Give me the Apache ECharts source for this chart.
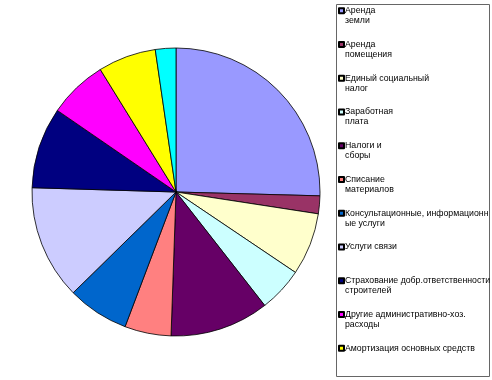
<!DOCTYPE html>
<html>
<head>
<meta charset="utf-8">
<script src="https://cdn.jsdelivr.net/npm/echarts@6/dist/echarts.min.js"></script>
<style>
html,body{margin:0;padding:0;background:#fff;}
#c{width:492px;height:380px;}
</style>
</head>
<body>
<div id="c"></div>
<script>
var categories = [
  'Аренда земли',
  'Аренда помещения',
  'Единый социальный налог',
  'Заработная плата',
  'Налоги и сборы',
  'Списание материалов',
  'Консультационные, информационные услуги',
  'Услуги связи',
  'Страхование добр.ответственности строителей',
  'Другие административно-хоз. расходы',
  'Амортизация основных средств',
  'Прочие'
];
var legendLabels = [
  'Аренда\nземли',
  'Аренда\nпомещения',
  'Единый социальный\nналог',
  'Заработная\nплата',
  'Налоги и\nсборы',
  'Списание\nматериалов',
  'Консультационные, информационн\nые услуги',
  'Услуги связи\n ',
  'Страхование добр.ответственности\nстроителей',
  'Другие административно-хоз.\nрасходы',
  'Амортизация основных средств\n ',
  ''
];
var values = [25.4, 2.0, 7.0, 5.0, 11.1, 5.2, 6.9, 12.8, 9.1, 6.6, 6.5, 2.3];
var colors = ['#9999FF','#993366','#FFFFCC','#CCFFFF','#660066','#FF8080','#0066CC','#CCCCFF','#000080','#FF00FF','#FFFF00','#00FFFF'];

var chart = echarts.init(document.getElementById('c'), null, {renderer:'canvas'});
var data = categories.map(function(n,i){ return {name:n, value:values[i], itemStyle:{color:colors[i]}}; });
var labelMap = {};
categories.forEach(function(n,i){ labelMap[n] = legendLabels[i]; });

chart.setOption({
  animation: false,
  backgroundColor: '#ffffff',
  graphic: [{
    type: 'rect',
    shape: {x: 336.5, y: 4.5, width: 153, height: 372},
    style: {fill: 'none', stroke: '#666666', lineWidth: 1},
    z: -1
  }],
  legend: {
    orient: 'vertical',
    left: 338,
    top: 4.8,
    height: 370,
    data: categories.slice(0, 11),
    itemWidth: 5,
    itemHeight: 20,
    itemGap: 11.75,
    padding: 0,
    icon: 'path://M0,5h10v10h-10z M0,0 M0,40',
    selectedMode: false,
    formatter: function(n){ return labelMap[n]; },
    textStyle: {
      fontFamily: 'Liberation Sans, Arial, sans-serif',
      fontSize: 8.75,
      color: '#000',
      lineHeight: 10,
      padding: [0, 0, 0, -4]
    }
  },
  series: [{
    type: 'pie',
    center: [176, 192],
    radius: 144,
    startAngle: 90,
    clockwise: true,
    label: {show: false},
    labelLine: {show: false},
    emphasis: {disabled: true},
    itemStyle: {borderColor: '#000', borderWidth: 0.8},
    data: data
  }]
});
</script>
</body>
</html>
